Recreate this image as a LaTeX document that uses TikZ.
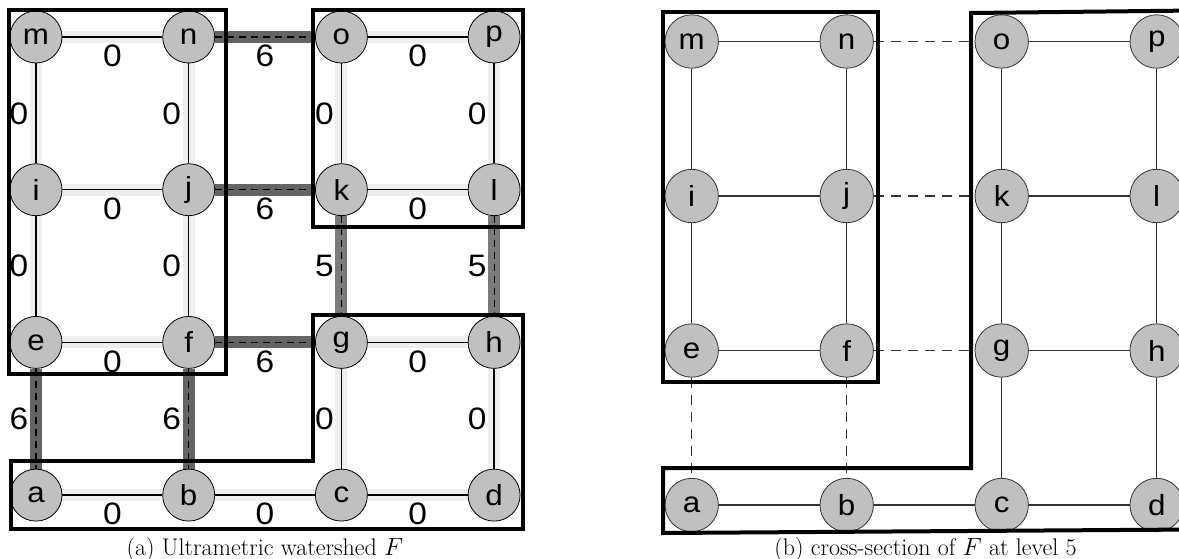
\documentclass[tikz,border=0pt]{standalone}
\usepackage{fontspec}
\newfontfamily\arialf[FakeStretch=1.08]{Liberation Sans}
\pgfdeclarelayer{bg}
\pgfsetlayers{bg,main}
\definecolor{nodegray}{HTML}{C0C0C0}
\definecolor{bandlight}{HTML}{EFEFEF}
\definecolor{bandsix}{HTML}{646464}
\definecolor{bandfive}{HTML}{7A7A7A}
\definecolor{thinline}{HTML}{333333}
\begin{document}
\begin{tikzpicture}[x=1pt,y=-1pt,
 vtx/.style={circle, draw=black, line width=0.8pt, fill=nodegray, minimum size=52pt, inner sep=0pt, font=\arialf\fontsize{29}{29}\selectfont},
 vtxr/.style={vtx, draw=thinline, minimum size=53.4pt},
 wl/.style={font=\arialf\fontsize{31}{31}\selectfont, inner sep=0pt},
 bandz/.style={line width=12pt, draw=bandlight},
 bandsx/.style={line width=12pt, draw=bandsix},
 bandfv/.style={line width=12pt, draw=bandfive},
 zline/.style={draw=black, line width=1.3pt},
 dline/.style={draw=black, line width=1.1pt, dash pattern=on 7pt off 5pt},
 rline/.style={draw=thinline, line width=1.2pt},
 rdash/.style={draw=thinline, line width=1.1pt, dash pattern=on 10pt off 7pt},
 region/.style={draw=black, line width=4pt},
 capt/.style={font=\fontsize{24}{28}\selectfont, inner sep=0pt, anchor=base},
]
\useasboundingbox (0,0) rectangle (1179,558);

% ---------- left panel: vertices ----------
\node[vtx] (lm) at (36,37) {m};
\node[vtx] (ln) at (188.7,37) {n};
\node[vtx] (lo) at (341.4,37) {o};
\node[vtx] (lp) at (494.1,37) {p};
\node[vtx] (li) at (36,189.7) {i};
\node[vtx] (lj) at (188.7,189.7) {j};
\node[vtx] (lk) at (341.4,189.7) {k};
\node[vtx] (ll) at (494.1,189.7) {l};
\node[vtx] (le) at (36,342.4) {e};
\node[vtx] (lf) at (188.7,342.4) {f};
\node[vtx] (lg) at (341.4,342.4) {g};
\node[vtx] (lh) at (494.1,342.4) {h};
\node[vtx] (la) at (36,495.1) {a};
\node[vtx] (lb) at (188.7,495.1) {b};
\node[vtx] (lc) at (341.4,495.1) {c};
\node[vtx] (ld) at (494.1,495.1) {d};

% horizontal edges of weight 0
\foreach \u/\v in {m/n,o/p,i/j,k/l,e/f,g/h,a/b,b/c,c/d} {
  \begin{pgfonlayer}{bg}\draw[bandz] (l\u) -- (l\v);\end{pgfonlayer}
  \draw[zline] (l\u) -- node[wl, yshift=-19pt, name=w\u\v] {0} (l\v);
}
% horizontal edges of weight 6
\foreach \u/\v in {n/o,j/k,f/g} {
  \begin{pgfonlayer}{bg}\draw[bandsx] (l\u) -- (l\v);\end{pgfonlayer}
  \draw[dline] (l\u) -- node[wl, yshift=-19pt, name=w\u\v] {6} (l\v);
}
% vertical edges of weight 0
\foreach \u/\v in {m/i,n/j,o/k,p/l,i/e,j/f,g/c,h/d} {
  \begin{pgfonlayer}{bg}\draw[bandz] (l\u) -- (l\v);\end{pgfonlayer}
  \draw[zline] (l\u) -- node[wl, xshift=-17pt, name=w\u\v] {0} (l\v);
}
% vertical edges of weight 6
\foreach \u/\v in {e/a,f/b} {
  \begin{pgfonlayer}{bg}\draw[bandsx] (l\u) -- (l\v);\end{pgfonlayer}
  \draw[dline] (l\u) -- node[wl, xshift=-17pt, name=w\u\v] {6} (l\v);
}
% vertical edges of weight 5
\foreach \u/\v in {k/g,l/h} {
  \begin{pgfonlayer}{bg}\draw[bandfv] (l\u) -- (l\v);\end{pgfonlayer}
  \draw[dline] (l\u) -- node[wl, xshift=-17pt, name=w\u\v] {5} (l\v);
}

% regions
\draw[region] (8.5,10) rectangle (226,373.5);
\draw[region] (313,10) rectangle (523,227);
\draw[region] (313,315) -- (523,315) -- (523,529.3) -- (10.5,529.3) -- (10.5,460.7) -- (313,460.7) -- cycle;

% ---------- right panel: vertices ----------
\node[vtxr] (rm) at (691.7,41.5) {m};
\node[vtxr] (rn) at (846.7,41.5) {n};
\node[vtxr] (ro) at (1001.7,41.5) {o};
\node[vtxr] (rp) at (1156.7,41.5) {p};
\node[vtxr] (ri) at (691.7,196) {i};
\node[vtxr] (rj) at (846.7,196) {j};
\node[vtxr] (rk) at (1001.7,196) {k};
\node[vtxr] (rl) at (1156.7,196) {l};
\node[vtxr] (re) at (691.7,350.5) {e};
\node[vtxr] (rf) at (846.7,350.5) {f};
\node[vtxr] (rg) at (1001.7,350.5) {g};
\node[vtxr] (rh) at (1156.7,350.5) {h};
\node[vtxr] (ra) at (691.7,505) {a};
\node[vtxr] (rb) at (846.7,505) {b};
\node[vtxr] (rc) at (1001.7,505) {c};
\node[vtxr] (rd) at (1156.7,505) {d};

\foreach \u/\v in {m/n,o/p,i/j,k/l,e/f,g/h,a/b,b/c,c/d,m/i,i/e,n/j,j/f,o/k,k/g,g/c,p/l,l/h,h/d} {
  \draw[rline] (r\u) -- (r\v);
}
\foreach \u/\v in {n/o,j/k,f/g,e/a,f/b} {
  \draw[rdash] (r\u) -- (r\v);
}

\draw[region] (663,12) rectangle (878,382);
\draw[region] (1195,10.5) -- (971,13) -- (971,468) -- (663,468) -- (663,533) -- (1195,529.5);

% ---------- captions ----------
\node[capt] (capa) at (265,555) {(a) Ultrametric watershed $F$};
\node[capt] (capb) at (925.5,555) {(b) cross-section of $F$ at level 5};
\end{tikzpicture}
\end{document}
